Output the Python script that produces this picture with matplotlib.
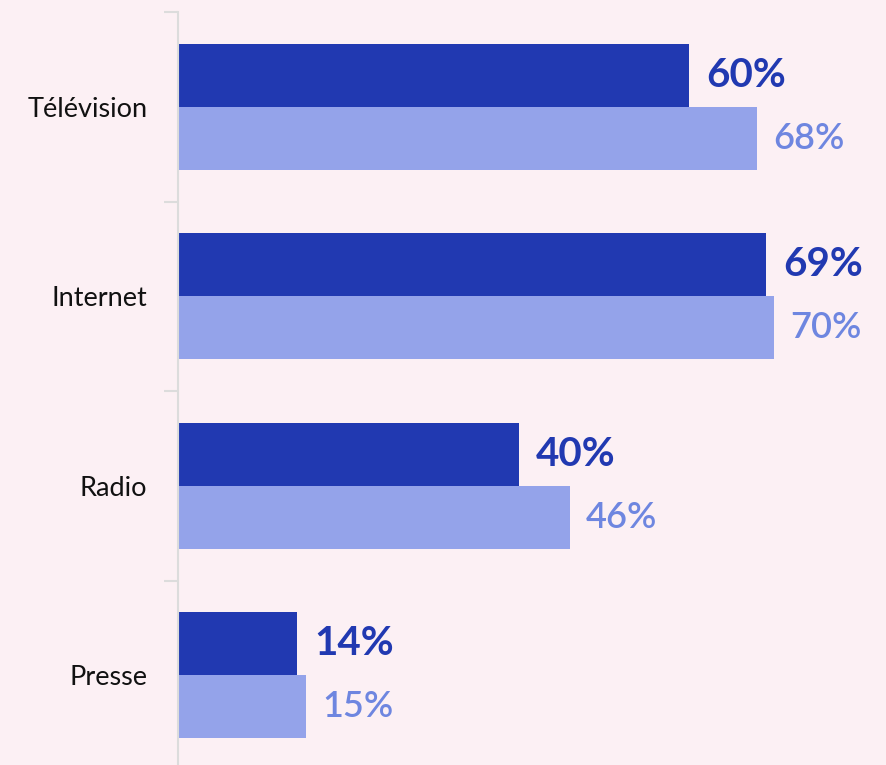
import matplotlib
matplotlib.use("Agg")
import numpy as np
from matplotlib import pyplot as plt

# data
categories = ["Télévision", "Internet", "Radio", "Presse"]
dark_values = [60, 69, 40, 14]
light_values = [68, 70, 46, 15]

dark_bar = "#2139b1"
light_bar = "#94a3ea"
light_text = "#6e86e0"
bg = "#fcf0f4"

plt.rcParams["font.family"] = ["Lato", "DejaVu Sans"]

fig = plt.figure(figsize=(8.86, 7.65), dpi=100, facecolor=bg)
ax = fig.add_axes([178 / 886, -5 / 765, 708 / 886, 758 / 765])
ax.set_facecolor(bg)

y = np.arange(len(categories))
h = 1 / 3
ax.barh(y - h / 2, dark_values, height=h, color=dark_bar)
ax.barh(y + h / 2, light_values, height=h, color=light_bar)

for i in range(len(categories)):
    ax.text(dark_values[i] + 2.0, y[i] - h / 2, f"{dark_values[i]}%",
            va="center", ha="left", fontsize=29, fontweight="bold", color=dark_bar)
    ax.text(light_values[i] + 1.9, y[i] + h / 2, f"{light_values[i]}%",
            va="center", ha="left", fontsize=26, fontweight="semibold", color=light_text)

ax.set_xlim(0, 83.1)
ax.set_ylim(len(categories) - 0.5, -0.5)

ax.set_yticks(y)
ax.set_yticklabels(categories, fontsize=19.5, color="#111111")
ax.set_yticks(np.arange(len(categories)) - 0.5, minor=True)
ax.tick_params(axis="y", which="major", length=0, pad=22)
ax.tick_params(axis="y", which="minor", length=10, width=1.5, color="#dcdcdc")
ax.set_xticks([])

for s in ["top", "right", "bottom"]:
    ax.spines[s].set_visible(False)
ax.spines["left"].set_color("#dcdcdc")
ax.spines["left"].set_linewidth(1.5)

fig.savefig("out.png", dpi=100, facecolor=bg)
